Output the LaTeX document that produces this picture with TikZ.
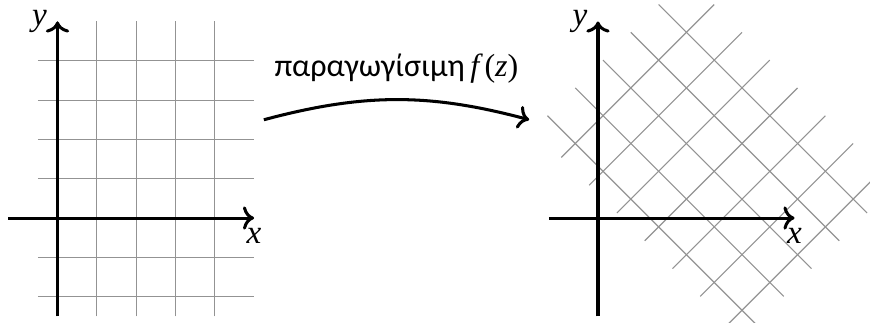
\documentclass[tikz,border=0pt]{standalone}
\usepackage{fontspec}
\usepackage{tikz}
\usetikzlibrary{arrows.meta, positioning, calc}
\newfontfamily\greeksans{Carlito}
\newfontfamily\timesfont{Liberation Serif}
\newcommand{\mvar}[1]{{\timesfont\itshape #1}}

\tikzset{
    axis/.style={->, line width=1.1pt},
    gridline/.style={gray!85, thin},
    mapsto/.style={->, line width=1.1pt}
}

\begin{document}
\begin{tikzpicture}[x=0.5cm, y=0.5cm, font=\fontsize{12}{14}\selectfont]
    \useasboundingbox (-1.463,-2.646) rectangle (20.67,5.547);

    % αρχικό πλέγμα
    \foreach \x in {0,...,4}
        \draw[gridline] (\x,-2.5) -- (\x,5);
    \foreach \y in {-2,...,4}
        \draw[gridline] (-0.5,\y) -- (5,\y);
    \draw[axis] (-1.25,0) -- (5,0) node[below] (xleft) {\mvar{x}};
    \draw[axis] (0,-2.5) -- (0,5) node[left] (yleft) {\mvar{y}};

    % απεικόνιση
    \coordinate (mapstart) at (5.25,2.5);
    \coordinate (mapend) at (12,2.5);
    \draw[mapsto] (mapstart) to[bend left=15]
        node[above=2pt, font=\fontsize{11.6}{14}\selectfont] (maplabel)
        {\greeksans παραγωγίσιμη\,{\timesfont\mvar{f}\,(\mvar{z})}} (mapend);

    % στραμμένο πλέγμα
    \begin{scope}[shift={(13.75,0)}]
        \begin{scope}[rotate around={45:(2.25,2.25)}]
            \foreach \x in {0,...,4}
                \draw[gridline] (\x,-2.5) -- (\x,5);
            \foreach \y in {-2,...,4}
                \draw[gridline] (-0.5,\y) -- (5,\y);
        \end{scope}
        \draw[axis] (-1.25,0) -- (5,0) node[below] (xright) {\mvar{x}};
        \draw[axis] (0,-2.5) -- (0,5) node[left] (yright) {\mvar{y}};
    \end{scope}
\end{tikzpicture}
\end{document}
